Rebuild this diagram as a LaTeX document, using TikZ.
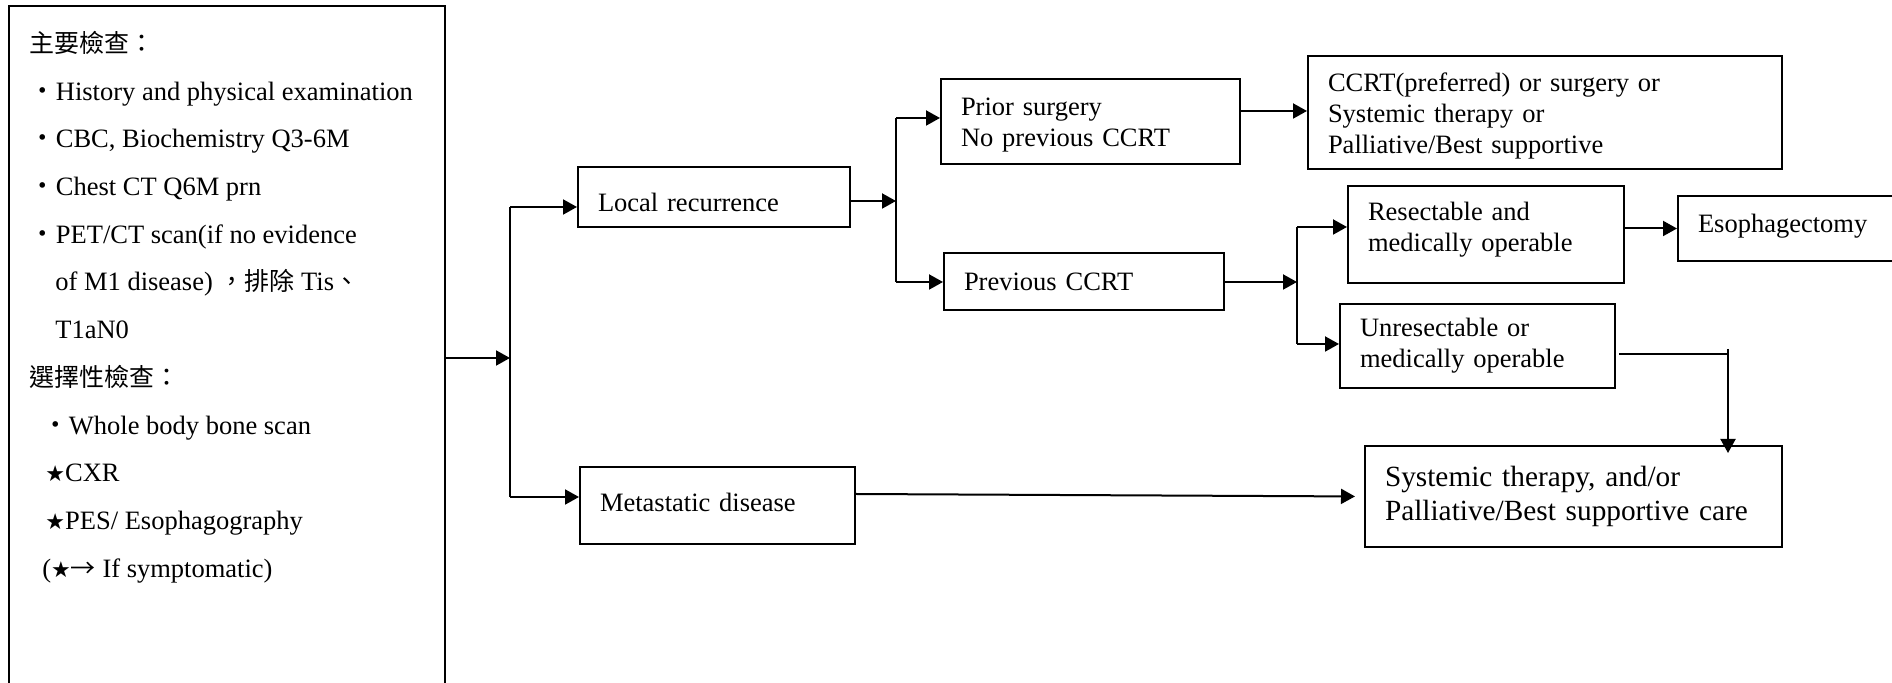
\documentclass[tikz,border=0pt]{standalone}
\usepackage{fontspec}
\setmainfont{Liberation Serif}
\newfontfamily\cjk{Noto Sans CJK TC}
\newfontfamily\symfont{DejaVu Sans}
\usetikzlibrary{arrows.meta}

% text sizes
\newcommand\bodysize{\fontsize{13.25pt}{15.5pt}\selectfont}
\newcommand\bigsize{\fontsize{14.65pt}{17pt}\selectfont}
\newcommand\cjksize{\fontsize{12.5pt}{15pt}\selectfont}
% list marks
\newcommand\bulletmark{{\cjk\fontsize{13.25pt}{15.5pt}\selectfont ・}}
\newcommand\starmark{{\symfont\fontsize{11pt}{13pt}\selectfont ★}}
\newcommand\zh[1]{{\cjk\cjksize #1}}

\begin{document}
\begin{tikzpicture}[x=0.5pt,y=-0.5pt,
  box/.style={draw, line width=1pt, inner xsep=10pt, inner ysep=0pt,
              align=left, anchor=north west, font=\bodysize},
  % nudge the text block of a box down (taller first line) or up (deeper last line)
  lowertext/.style={execute at begin node={\rule{0pt}{#1}}},
  raisetext/.style={execute at end node={\rule[-#1]{0pt}{0pt}}},
  listline/.style={inner sep=0pt, anchor=base west, font=\bodysize},
  conn/.style={line width=1pt},
  arr/.style={conn, -{Triangle[length=7pt,width=7.5pt]}}]

\useasboundingbox (0,0) rectangle (1892,683);

% ---- examination list -------------------------------------------------
\node[draw, line width=1pt, minimum width=218pt, minimum height=355pt,
      anchor=north west, inner sep=0pt] (info) at (8,5) {};

\node[listline] (t1)  at (29,52.5)  {\zh{主要檢查：}};
\node[listline] (t2)  at (29,100.2) {\bulletmark History and physical examination};
\node[listline] (t3)  at (29,147.9) {\bulletmark CBC, Biochemistry Q3-6M};
\node[listline] (t4)  at (29,195.6) {\bulletmark Chest CT Q6M prn};
\node[listline] (t5)  at (29,243.3) {\bulletmark PET/CT scan(if no evidence};
\node[listline] (t6)  at (55,291.0) {of M1 disease)\ \zh{，排除} Tis\zh{、}};
\node[listline] (t7)  at (55,338.7) {T1aN0};
\node[listline] (t8)  at (29,386.4) {\zh{選擇性檢查：}};
\node[listline] (t9)  at (42,434.1) {\bulletmark Whole body bone scan};
\node[listline] (t10) at (45,481.8) {\starmark CXR};
\node[listline] (t11) at (45,529.5) {\starmark PES/ Esophagography};
\node[listline] (t12) at (42,577.2) {(\starmark\zh{→} If symptomatic)};

% ---- decision boxes ---------------------------------------------------
\node[box, lowertext=15pt, minimum width=136pt, minimum height=30pt, text width=116pt]
  (local) at (577,166) {Local recurrence};
\node[box, raisetext=3.6pt, minimum width=137.5pt, minimum height=38.5pt, text width=117.5pt]
  (meta) at (579,466) {Metastatic disease};
\node[box, lowertext=12.7pt, minimum width=149.5pt, minimum height=42.5pt, text width=129.5pt]
  (prior) at (940,78) {Prior surgery\\No previous CCRT};
\node[box, minimum width=140pt, minimum height=28.5pt, text width=120pt]
  (prev) at (943,252) {Previous CCRT};
\node[box, lowertext=12.8pt, minimum width=237pt, minimum height=56.5pt, text width=217pt]
  (ccrt) at (1307,55) {CCRT(preferred) or surgery or\\Systemic therapy or\\Palliative/Best supportive};
\node[box, raisetext=7.7pt, minimum width=138pt, minimum height=48.5pt, text width=118pt]
  (res) at (1347,185) {Resectable and\\medically operable};
\node[box, raisetext=5.3pt, minimum width=110pt, minimum height=32.5pt, text width=90pt]
  (eso) at (1677,195) {Esophagectomy};
\node[box, minimum width=137.5pt, minimum height=42pt, text width=117.5pt]
  (unr) at (1339,303) {Unresectable or\\medically operable};
\node[box, font=\bigsize, minimum width=208.5pt, minimum height=50.5pt, text width=188.5pt]
  (sys) at (1364,445) {Systemic therapy, and/or\\Palliative/Best supportive care};

% ---- connectors -------------------------------------------------------
% first split
\coordinate (j1)   at (510,358);
\coordinate (jTop) at (510,207);
\coordinate (jBot) at (510,497);
\draw[arr]  (info.east |- j1) -- (j1);
\draw[conn] (jTop) -- (jBot);
\draw[arr]  (jTop) -- (jTop -| local.west);
\draw[arr]  (jBot) -- (jBot -| meta.west);

% local recurrence split
\coordinate (k)    at (896,201);
\coordinate (kTop) at (896,118);
\coordinate (kBot) at (896,282);
\draw[arr]  (local.east |- k) -- (k);
\draw[conn] (kTop) -- (kBot);
\draw[arr]  (kTop) -- (kTop -| prior.west);
\draw[arr]  (kBot) -- (kBot -| prev.west);

% prior surgery
\coordinate (pc) at ([yshift=5.25pt]prior.east);
\draw[arr] (pc) -- (pc -| ccrt.west);

% previous CCRT split
\coordinate (m)    at (1297,282);
\coordinate (mTop) at (1297,227);
\coordinate (mBot) at (1297,344);
\draw[arr]  (prev.east |- m) -- (m);
\draw[conn] (mTop) -- (mBot);
\draw[arr]  (mTop) -- (mTop -| res.west);
\draw[arr]  (mBot) -- (mBot -| unr.west);

% resectable
\draw[arr] (res.east |- eso.west) -- (eso.west);

% unresectable to systemic therapy
\coordinate (uc) at ([xshift=1.5pt,yshift=-4pt]unr.east);
\coordinate (ud) at (1728,349);
\draw[conn] (uc) -- (uc -| ud);
\draw[arr, shorten >=-4pt] (ud) -- (ud |- sys.north);

% metastatic disease to systemic therapy
\coordinate (mc) at ([yshift=5.75pt]meta.east);
\draw[arr, shorten >=4.5pt] (mc) -- (sys.west);
\end{tikzpicture}
\end{document}
